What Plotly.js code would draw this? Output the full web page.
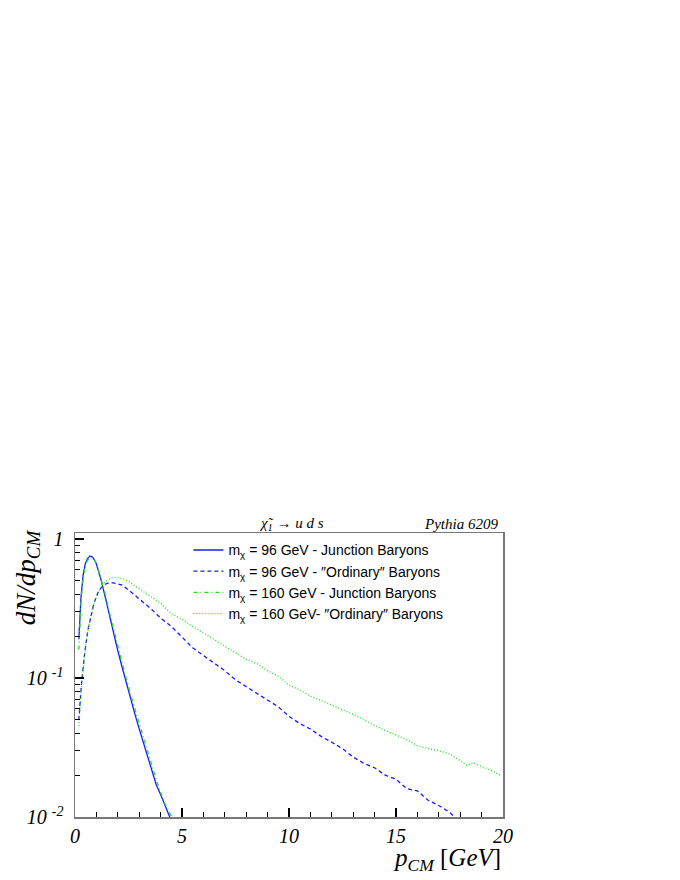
<!DOCTYPE html>
<html>
<head>
<meta charset="utf-8">
<script src="https://cdn.plot.ly/plotly-3.0.1.min.js"></script>
<style>
  body { margin: 0; background: #fff; }
  #plot { width: 680px; height: 880px; }
</style>
</head>
<body>
<div id="plot"></div>
<script>
// m_chi = 96 GeV, junction baryons
const jx96 = [0.18, 0.28, 0.38, 0.48, 0.58, 0.7, 0.8, 0.9, 1.0, 1.2, 1.4, 1.6, 1.8, 2.0, 2.2, 2.4, 2.6, 2.8, 3.0, 3.2, 3.4, 3.6, 3.8, 4.0, 4.2, 4.45];
const jy96 = [0.19, 0.38, 0.55, 0.66, 0.72, 0.755, 0.745, 0.71, 0.66, 0.52, 0.39, 0.285, 0.21, 0.157, 0.12, 0.091, 0.07, 0.055, 0.043, 0.034, 0.027, 0.021, 0.017, 0.0145, 0.012, 0.0098];

// m_chi = 160 GeV, junction baryons
const jx160 = [0.18, 0.28, 0.38, 0.48, 0.58, 0.7, 0.8, 0.9, 1.0, 1.2, 1.4, 1.6, 1.8, 2.0, 2.2, 2.4, 2.6, 2.8, 3.0, 3.2, 3.4, 3.6, 3.8, 4.0, 4.2, 4.55];
const jy160 = [0.16, 0.35, 0.52, 0.64, 0.7, 0.735, 0.735, 0.71, 0.67, 0.535, 0.41, 0.3, 0.225, 0.168, 0.128, 0.098, 0.076, 0.06, 0.047, 0.037, 0.029, 0.023, 0.0185, 0.015, 0.0125, 0.0098];

// m_chi = 96 GeV, "ordinary" baryons
const ox96 = [0.18, 0.3, 0.45, 0.6, 0.75, 0.9, 1.1, 1.3, 1.5, 1.7, 1.9, 2.2, 2.5, 2.8, 3.2, 3.6, 4.0, 4.5, 5.0, 5.5, 6.0, 6.5, 7.0, 7.5, 8.0, 8.5, 9.0, 9.5, 10.0, 10.5, 11.0, 11.5, 12.0, 12.5, 13.0, 13.5, 14.0, 14.5, 15.0, 15.5, 16.0, 16.5, 17.0, 17.5, 17.8];
const oy96 = [0.05, 0.09, 0.15, 0.22, 0.28, 0.35, 0.42, 0.46, 0.48, 0.485, 0.48, 0.465, 0.43, 0.395, 0.35, 0.31, 0.27, 0.235, 0.197, 0.165, 0.145, 0.128, 0.113, 0.097, 0.087, 0.078, 0.069, 0.062, 0.053, 0.047, 0.043, 0.038, 0.0345, 0.031, 0.027, 0.0243, 0.0226, 0.02, 0.0187, 0.016, 0.0154, 0.0132, 0.0121, 0.0108, 0.0098];

// m_chi = 160 GeV, "ordinary" baryons
const ox160 = [0.18, 0.3, 0.45, 0.6, 0.75, 0.9, 1.1, 1.3, 1.5, 1.7, 1.9, 2.2, 2.5, 2.8, 3.2, 3.6, 4.0, 4.5, 5.0, 5.5, 6.0, 6.5, 7.0, 7.5, 8.0, 8.5, 9.0, 9.5, 10.0, 10.5, 11.0, 11.5, 12.0, 12.5, 13.0, 13.5, 14.0, 14.5, 15.0, 15.5, 16.0, 16.5, 17.0, 17.5, 18.0, 18.3, 18.6, 19.0, 19.5, 19.9];
const oy160 = [0.045, 0.085, 0.15, 0.22, 0.29, 0.35, 0.42, 0.47, 0.505, 0.525, 0.53, 0.52, 0.495, 0.46, 0.42, 0.38, 0.345, 0.29, 0.265, 0.235, 0.21, 0.19, 0.168, 0.152, 0.136, 0.127, 0.113, 0.103, 0.089, 0.082, 0.074, 0.069, 0.064, 0.059, 0.055, 0.05, 0.0455, 0.042, 0.039, 0.036, 0.0325, 0.031, 0.03, 0.0285, 0.0255, 0.0235, 0.0245, 0.0232, 0.0215, 0.0198];

const names = [
  "m<sub>χ</sub> = 96 GeV - Junction Baryons",
  "m<sub>χ</sub> = 96 GeV - ″Ordinary″ Baryons",
  "m<sub>χ</sub> = 160 GeV - Junction Baryons",
  "m<sub>χ</sub> = 160 GeV- ″Ordinary″ Baryons"
];
const xTickVals = [0, 5, 10, 15, 20];
const xTickText = ["<i>0</i>", "<i>5</i>", "<i>10</i>", "<i>15</i>", "<i>20</i>"];
const yTickVals = [0.01, 0.1, 1];
const yTickText = ["<i>10</i> <sup><i>-2</i></sup>", "<i>10</i> <sup><i>-1</i></sup>", "<i>1</i>"];

const blue = "#1a1aff";
const green = "#22dd22";
const serif = "Liberation Serif";

const traces = [
  { x: jx96, y: jy96, name: names[0], mode: "lines", line: { color: blue, width: 1.3 } },
  { x: ox96, y: oy96, name: names[1], mode: "lines", line: { color: blue, width: 1.3, dash: "4px,3px" } },
  { x: jx160, y: jy160, name: names[2], mode: "lines", line: { color: green, width: 1.3, dash: "4px,3px,1px,3px" } },
  { x: ox160, y: oy160, name: names[3], mode: "lines", line: { color: green, width: 1.3, dash: "1px,2px" } }
];

const layout = {
  width: 680, height: 880,
  margin: { l: 75, r: 177, t: 533, b: 63 },
  paper_bgcolor: "#fff", plot_bgcolor: "#fff",
  showlegend: true,
  legend: {
    x: 0.265, y: 0.995, xanchor: "left", yanchor: "top",
    bgcolor: "rgba(0,0,0,0)", borderwidth: 0,
    font: { family: "Liberation Sans", size: 14, color: "#000" }
  },
  xaxis: {
    range: [0, 20], tickvals: xTickVals, ticktext: xTickText,
    ticks: "inside", ticklen: 9, tickcolor: "#000", tickwidth: 1.2,
    minor: { dtick: 1, ticks: "inside", ticklen: 5, tickcolor: "#000" },
    showline: true, linecolor: "#777", linewidth: 1.5, mirror: true,
    showgrid: false, zeroline: false,
    tickfont: { family: serif, size: 20, color: "#000" }
  },
  yaxis: {
    type: "log", range: [-2, 0.043],
    tickvals: yTickVals, ticktext: yTickText,
    ticks: "inside", ticklen: 9, tickcolor: "#000", tickwidth: 1.2,
    minor: { dtick: "D1", ticks: "inside", ticklen: 5, tickcolor: "#000" },
    showline: true, linecolor: "#777", linewidth: 1.5, mirror: true,
    showgrid: false, zeroline: false, ticklabelstandoff: 6,
    tickfont: { family: serif, size: 20, color: "#000" }
  },
  annotations: [
    { text: "<i>χ̃<sub>1</sub> → u d s</i>", xref: "paper", yref: "paper", x: 0.507, y: 1.03,
      xanchor: "center", yanchor: "middle", showarrow: false, font: { family: serif, size: 15, color: "#000" } },
    { text: "<i>Pythia 6209</i>", xref: "paper", yref: "paper", x: 0.993, y: 1.03,
      xanchor: "right", yanchor: "middle", showarrow: false, font: { family: serif, size: 15, color: "#000" } },
    { text: "<i>dN/dp<sub>CM</sub></i>", xref: "paper", yref: "paper", x: -0.11, y: 1.02,
      xanchor: "center", yanchor: "top", textangle: -90, showarrow: false, font: { family: serif, size: 27, color: "#000" } },
    { text: "<i>p<sub>CM</sub></i> [<i>GeV</i>]", xref: "paper", yref: "paper", x: 1.0, y: -0.15,
      xanchor: "right", yanchor: "middle", showarrow: false, font: { family: serif, size: 25, color: "#000" } }
  ]
};

Plotly.newPlot("plot", traces, layout, { staticPlot: true, displayModeBar: false });
</script>
</body>
</html>
